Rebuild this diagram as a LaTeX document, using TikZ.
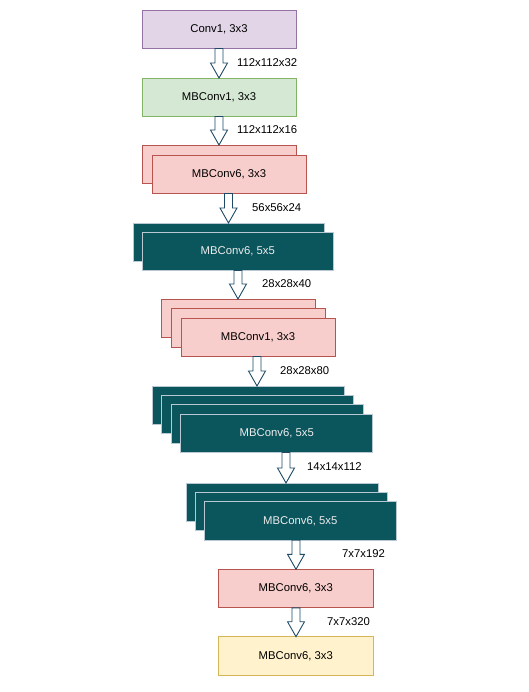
\documentclass[tikz,border=0pt]{standalone}
\usepackage{fontspec}
\setmainfont{Liberation Sans}
\usetikzlibrary{calc}
\definecolor{purF}{HTML}{E1D5E7}\definecolor{purD}{HTML}{9673A6}
\definecolor{grnF}{HTML}{D5E8D4}\definecolor{grnD}{HTML}{82B366}
\definecolor{pnkF}{HTML}{F8CECC}\definecolor{pnkD}{HTML}{B85450}
\definecolor{ylwF}{HTML}{FFF2CC}\definecolor{ylwD}{HTML}{D6B656}
\definecolor{tealF}{HTML}{0B555C}\definecolor{tealD}{HTML}{BAC8D3}
\definecolor{arrD}{HTML}{1E4A66}
\definecolor{txtL}{HTML}{EDEDED}
\begin{document}
\begin{tikzpicture}[x=1pt,y=-1pt,
  font=\fontsize{11.3}{13.5}\selectfont,
  box/.style={draw, line width=0.9pt, inner sep=0pt, outer sep=0pt, anchor=north west, minimum height=38.5pt},
  purbox/.style={box, fill=purF, draw=purD},
  grnbox/.style={box, fill=grnF, draw=grnD},
  pnkbox/.style={box, fill=pnkF, draw=pnkD},
  ylwbox/.style={box, fill=ylwF, draw=ylwD},
  tealbox/.style={box, fill=tealF, draw=tealD, text=txtL},
  lbl/.style={anchor=west, inner sep=0pt},
  arr/.style={draw=arrD, fill=white, line width=0.9pt, line join=miter}
]
\fill[white] (0,0) rectangle (528,692);
\useasboundingbox (0,0) rectangle (528,692);
\newcommand\blockarrow[3]{%
  \draw[arr] let \p1=(#2.south -| #1), \p2=(#3.north -| #1) in
    (\x1-4pt,\y1) -- (\x1+4pt,\y1) -- (\x1+4pt,\y2+15pt) -- (\x1+8.5pt,\y2+15pt)
    -- (\x1,\y2) -- (\x1-8.5pt,\y2+15pt) -- (\x1-4pt,\y2+15pt) -- cycle;}

% boxes
\node[purbox, minimum width=154pt] (b1) at (142,10) {Conv1, 3x3};
\node[grnbox, minimum width=154pt] (b2) at (142,78) {MBConv1, 3x3};

\node[pnkbox, minimum width=154pt] (b3a) at (142,145) {};
\node[pnkbox, minimum width=154pt] (b3) at (152,155) {MBConv6, 3x3};

\node[tealbox, minimum width=191.5pt] (b4a) at (133,223) {};
\node[tealbox, minimum width=191.5pt] (b4) at (142,232) {MBConv6, 5x5};

\node[pnkbox, minimum width=154pt] (b5a) at (161,299) {};
\node[pnkbox, minimum width=154pt] (b5b) at (171,308.5) {};
\node[pnkbox, minimum width=154pt] (b5) at (181,318) {MBConv1, 3x3};

\node[tealbox, minimum width=192pt] (b6a) at (152,386) {};
\node[tealbox, minimum width=192pt] (b6b) at (161.6,395.3) {};
\node[tealbox, minimum width=192pt] (b6c) at (171.2,404.7) {};
\node[tealbox, minimum width=192pt] (b6) at (180.8,414) {MBConv6, 5x5};

\node[tealbox, minimum width=192.5pt] (b7a) at (186,483) {};
\node[tealbox, minimum width=192.5pt] (b7b) at (195,492.3) {};
\node[tealbox, minimum width=192.5pt] (b7) at (204,501.7) {MBConv6, 5x5};

\node[pnkbox, minimum width=155pt] (b8) at (218.3,569.3) {MBConv6, 3x3};
\node[ylwbox, minimum width=155pt] (b9) at (218.3,636.7) {MBConv6, 3x3};

% arrow axes
\coordinate (ax1) at (219,0);
\coordinate (ax2) at (219,0);
\coordinate (ax3) at (228.5,0);
\coordinate (ax4) at (238,0);
\coordinate (ax5) at (257,0);
\coordinate (ax6) at (286,0);
\coordinate (ax7) at (296,0);
\coordinate (ax8) at (296,0);

\blockarrow{ax1}{b1}{b2}
\blockarrow{ax2}{b2}{b3a}
\blockarrow{ax3}{b3}{b4a}
\blockarrow{ax4}{b4}{b5a}
\blockarrow{ax5}{b5}{b6a}
\blockarrow{ax6}{b6}{b7a}
\blockarrow{ax7}{b7}{b8}
\blockarrow{ax8}{b8}{b9}

% labels
\node[lbl] (l1) at (237,63) {112x112x32};
\node[lbl] (l2) at (237,130) {112x112x16};
\node[lbl] (l3) at (252,208) {56x56x24};
\node[lbl] (l4) at (262,284) {28x28x40};
\node[lbl] (l5) at (280,371) {28x28x80};
\node[lbl] (l6) at (307,467) {14x14x112};
\node[lbl] (l7) at (342,554) {7x7x192};
\node[lbl] (l8) at (327,622) {7x7x320};
\end{tikzpicture}
\end{document}
